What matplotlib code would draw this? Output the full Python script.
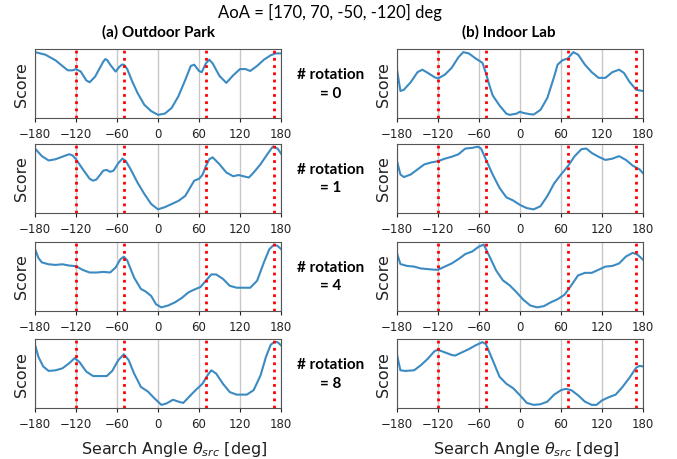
import matplotlib
matplotlib.use("Agg")
import matplotlib.pyplot as plt
import numpy as np

# ---------------- data ----------------
aoa = [170, 70, -50, -120]
rotations = [0, 1, 4, 8]
col_titles = ["(a) Outdoor Park", "(b) Indoor Lab"]
xticks = [-180, -120, -60, 0, 60, 120, 180]

park_r0_x = [-180, -165, -150, -140, -132, -125, -120, -113, -105, -100, -92, -85, -80, -77, -74, -70, -62, -57, -53, -50, -45, -38, -30, -20, -10, 0, 10, 20, 30, 40, 48, 53, 60, 64, 70, 75, 80, 90, 100, 110, 120, 128, 135, 145, 155, 165, 172, 180]
park_r0_y = [1.0, 0.96, 0.87, 0.78, 0.71, 0.71, 0.73, 0.69, 0.55, 0.52, 0.61, 0.75, 0.85, 0.89, 0.87, 0.80, 0.69, 0.76, 0.80, 0.80, 0.73, 0.54, 0.35, 0.16, 0.06, 0.0, 0.02, 0.11, 0.30, 0.56, 0.78, 0.80, 0.70, 0.68, 0.82, 0.88, 0.82, 0.62, 0.51, 0.63, 0.73, 0.73, 0.70, 0.78, 0.88, 0.95, 0.98, 0.98]

lab_r0_x = [-180, -175, -170, -160, -150, -143, -135, -125, -120, -110, -100, -90, -83, -75, -65, -55, -50, -45, -40, -30, -20, -15, -5, 0, 5, 15, 20, 30, 40, 50, 55, 62, 70, 78, 85, 95, 105, 115, 125, 135, 145, 152, 160, 170, 180]
lab_r0_y = [0.72, 0.38, 0.40, 0.52, 0.68, 0.72, 0.67, 0.60, 0.58, 0.64, 0.75, 0.92, 1.0, 0.98, 0.90, 0.83, 0.67, 0.48, 0.31, 0.15, 0.02, 0.0, 0.02, 0.05, 0.03, 0.01, 0.005, 0.08, 0.27, 0.61, 0.80, 0.87, 0.90, 1.0, 0.96, 0.80, 0.68, 0.59, 0.59, 0.68, 0.72, 0.67, 0.53, 0.40, 0.38]

park_r1_x = [-180, -170, -160, -150, -140, -130, -125, -120, -110, -100, -95, -90, -80, -75, -70, -65, -58, -52, -47, -40, -30, -20, -10, 0, 10, 20, 30, 40, 47, 53, 60, 65, 70, 75, 80, 90, 100, 110, 118, 125, 133, 140, 150, 160, 168, 175, 180]
park_r1_y = [0.97, 0.85, 0.78, 0.80, 0.84, 0.88, 0.86, 0.80, 0.64, 0.49, 0.46, 0.48, 0.62, 0.63, 0.60, 0.62, 0.74, 0.81, 0.77, 0.64, 0.43, 0.25, 0.09, 0.005, 0.04, 0.09, 0.14, 0.22, 0.35, 0.46, 0.49, 0.55, 0.69, 0.80, 0.83, 0.72, 0.59, 0.53, 0.55, 0.53, 0.51, 0.59, 0.72, 0.88, 1.0, 0.97, 0.89]

lab_r1_x = [-180, -175, -170, -160, -150, -140, -130, -120, -110, -100, -90, -80, -70, -62, -57, -50, -40, -30, -20, -10, 0, 10, 20, 30, 40, 50, 60, 70, 80, 90, 97, 105, 115, 125, 135, 145, 155, 165, 175, 180]
lab_r1_y = [0.76, 0.55, 0.51, 0.55, 0.63, 0.71, 0.74, 0.76, 0.80, 0.83, 0.87, 0.96, 0.97, 0.99, 0.96, 0.79, 0.55, 0.34, 0.19, 0.14, 0.07, 0.02, 0.0, 0.05, 0.21, 0.41, 0.55, 0.68, 0.84, 0.95, 0.96, 0.89, 0.83, 0.78, 0.80, 0.84, 0.78, 0.69, 0.63, 0.57]

park_r4_x = [-180, -175, -170, -160, -150, -140, -130, -120, -110, -100, -90, -80, -70, -62, -55, -50, -45, -35, -25, -18, -10, -3, 5, 15, 25, 35, 45, 55, 62, 70, 78, 85, 95, 105, 115, 125, 135, 145, 155, 163, 170, 175, 180]
park_r4_y = [0.92, 0.78, 0.71, 0.68, 0.67, 0.68, 0.66, 0.65, 0.59, 0.55, 0.55, 0.56, 0.55, 0.63, 0.76, 0.80, 0.74, 0.47, 0.29, 0.25, 0.18, 0.05, 0.0, 0.03, 0.08, 0.15, 0.24, 0.29, 0.32, 0.42, 0.52, 0.52, 0.45, 0.34, 0.31, 0.31, 0.31, 0.42, 0.71, 0.92, 0.99, 0.97, 0.92]

lab_r4_x = [-180, -175, -165, -155, -145, -135, -125, -120, -110, -100, -90, -80, -70, -60, -53, -45, -35, -25, -15, -5, 5, 15, 25, 35, 45, 55, 65, 75, 85, 95, 105, 115, 125, 135, 145, 155, 165, 172, 180]
lab_r4_y = [0.86, 0.69, 0.66, 0.65, 0.62, 0.61, 0.60, 0.60, 0.65, 0.70, 0.77, 0.85, 0.89, 0.97, 1.0, 0.82, 0.59, 0.43, 0.35, 0.24, 0.12, 0.03, 0.0, 0.02, 0.08, 0.13, 0.20, 0.35, 0.51, 0.55, 0.55, 0.60, 0.65, 0.66, 0.70, 0.81, 0.87, 0.84, 0.76]

park_r8_x = [-180, -175, -168, -160, -150, -140, -130, -122, -115, -105, -95, -85, -75, -67, -58, -50, -43, -35, -25, -15, -5, 5, 12, 22, 30, 37, 45, 55, 65, 73, 78, 85, 95, 105, 115, 130, 140, 150, 158, 165, 170, 175, 180]
park_r8_y = [0.95, 0.76, 0.61, 0.54, 0.55, 0.58, 0.66, 0.74, 0.68, 0.53, 0.46, 0.46, 0.46, 0.54, 0.71, 0.80, 0.71, 0.50, 0.29, 0.22, 0.11, 0.01, 0.03, 0.09, 0.06, 0.04, 0.13, 0.24, 0.34, 0.48, 0.55, 0.50, 0.34, 0.21, 0.17, 0.17, 0.24, 0.47, 0.76, 0.95, 0.99, 0.99, 0.94]

lab_r8_x = [-180, -175, -168, -155, -145, -135, -125, -120, -110, -100, -95, -85, -75, -65, -55, -50, -40, -30, -20, -10, 0, 10, 20, 30, 40, 50, 60, 67, 75, 85, 95, 105, 112, 120, 130, 140, 150, 160, 170, 175, 180]
lab_r8_y = [0.79, 0.55, 0.54, 0.55, 0.63, 0.73, 0.85, 0.87, 0.83, 0.79, 0.78, 0.83, 0.88, 0.94, 0.99, 0.96, 0.71, 0.45, 0.34, 0.27, 0.16, 0.04, 0.01, 0.02, 0.06, 0.17, 0.24, 0.26, 0.24, 0.16, 0.06, 0.01, 0.01, 0.08, 0.13, 0.17, 0.29, 0.43, 0.59, 0.62, 0.61]

park_x = [park_r0_x, park_r1_x, park_r4_x, park_r8_x]
park_y = [park_r0_y, park_r1_y, park_r4_y, park_r8_y]
lab_x = [lab_r0_x, lab_r1_x, lab_r4_x, lab_r8_x]
lab_y = [lab_r0_y, lab_r1_y, lab_r4_y, lab_r8_y]

# ---------------- layout ----------------
W, H = 677, 460
fig = plt.figure(figsize=(W / 100, H / 100), dpi=100)

col_left_px = [35, 397]
col_w_px = 246
row_top_px = [50, 144.5, 242.5, 340]
row_h_px = 69
xlabel_xpos = [0.565, 0.525]

label_font = ["Lato", "DejaVu Sans"]

for r in range(4):
    for c in range(2):
        left = col_left_px[c] / W
        bottom = 1 - (row_top_px[r] + row_h_px) / H
        ax = fig.add_axes([left, bottom, col_w_px / W, row_h_px / H])
        xs = park_x[r] if c == 0 else lab_x[r]
        ys = park_y[r] if c == 0 else lab_y[r]
        for t in xticks:
            ax.axvline(t, color="#c8c8c8", lw=1.0, zorder=0)
        ax.plot(xs, ys, color="#3b8bc2", lw=1.5, zorder=2)
        for a in aoa:
            ax.axvline(a, color="red", ls=(0, (1, 1.6)), lw=2.0, zorder=3)
        ax.set_xlim(-180, 180)
        ax.set_xticks(xticks)
        ax.set_yticks([])
        ax.tick_params(axis="x", labelsize=8.5, length=3, colors="#222222")
        ax.set_ylabel("Score", fontsize=11.5, labelpad=4, color="#222222")
        for s in ax.spines.values():
            s.set_color("#555555")
        if r == 3:
            ax.set_xlabel(r"Search Angle $\theta_{src}$ [deg]", fontsize=11.5, color="#222222")
            ax.xaxis.set_label_coords(xlabel_xpos[c], -0.45)

# titles
fig.text(330 / W, 1 - 12 / H, "AoA = [170, 70, -50, -120] deg", ha="center", va="center",
         fontsize=12, family=label_font)
fig.text(159 / W, 1 - 32 / H, col_titles[0], ha="center", va="center",
         fontsize=11, fontweight="bold", family=label_font)
fig.text(509 / W, 1 - 32 / H, col_titles[1], ha="center", va="center",
         fontsize=11, fontweight="bold", family=label_font)

for r, n in enumerate(rotations):
    yc = row_top_px[r] + row_h_px / 2
    fig.text(331 / W, 1 - yc / H, "# rotation\n= %d" % n, ha="center", va="center",
             fontsize=11, fontweight="bold", family=label_font, linespacing=1.45)

fig.savefig("out.png", dpi=100)
